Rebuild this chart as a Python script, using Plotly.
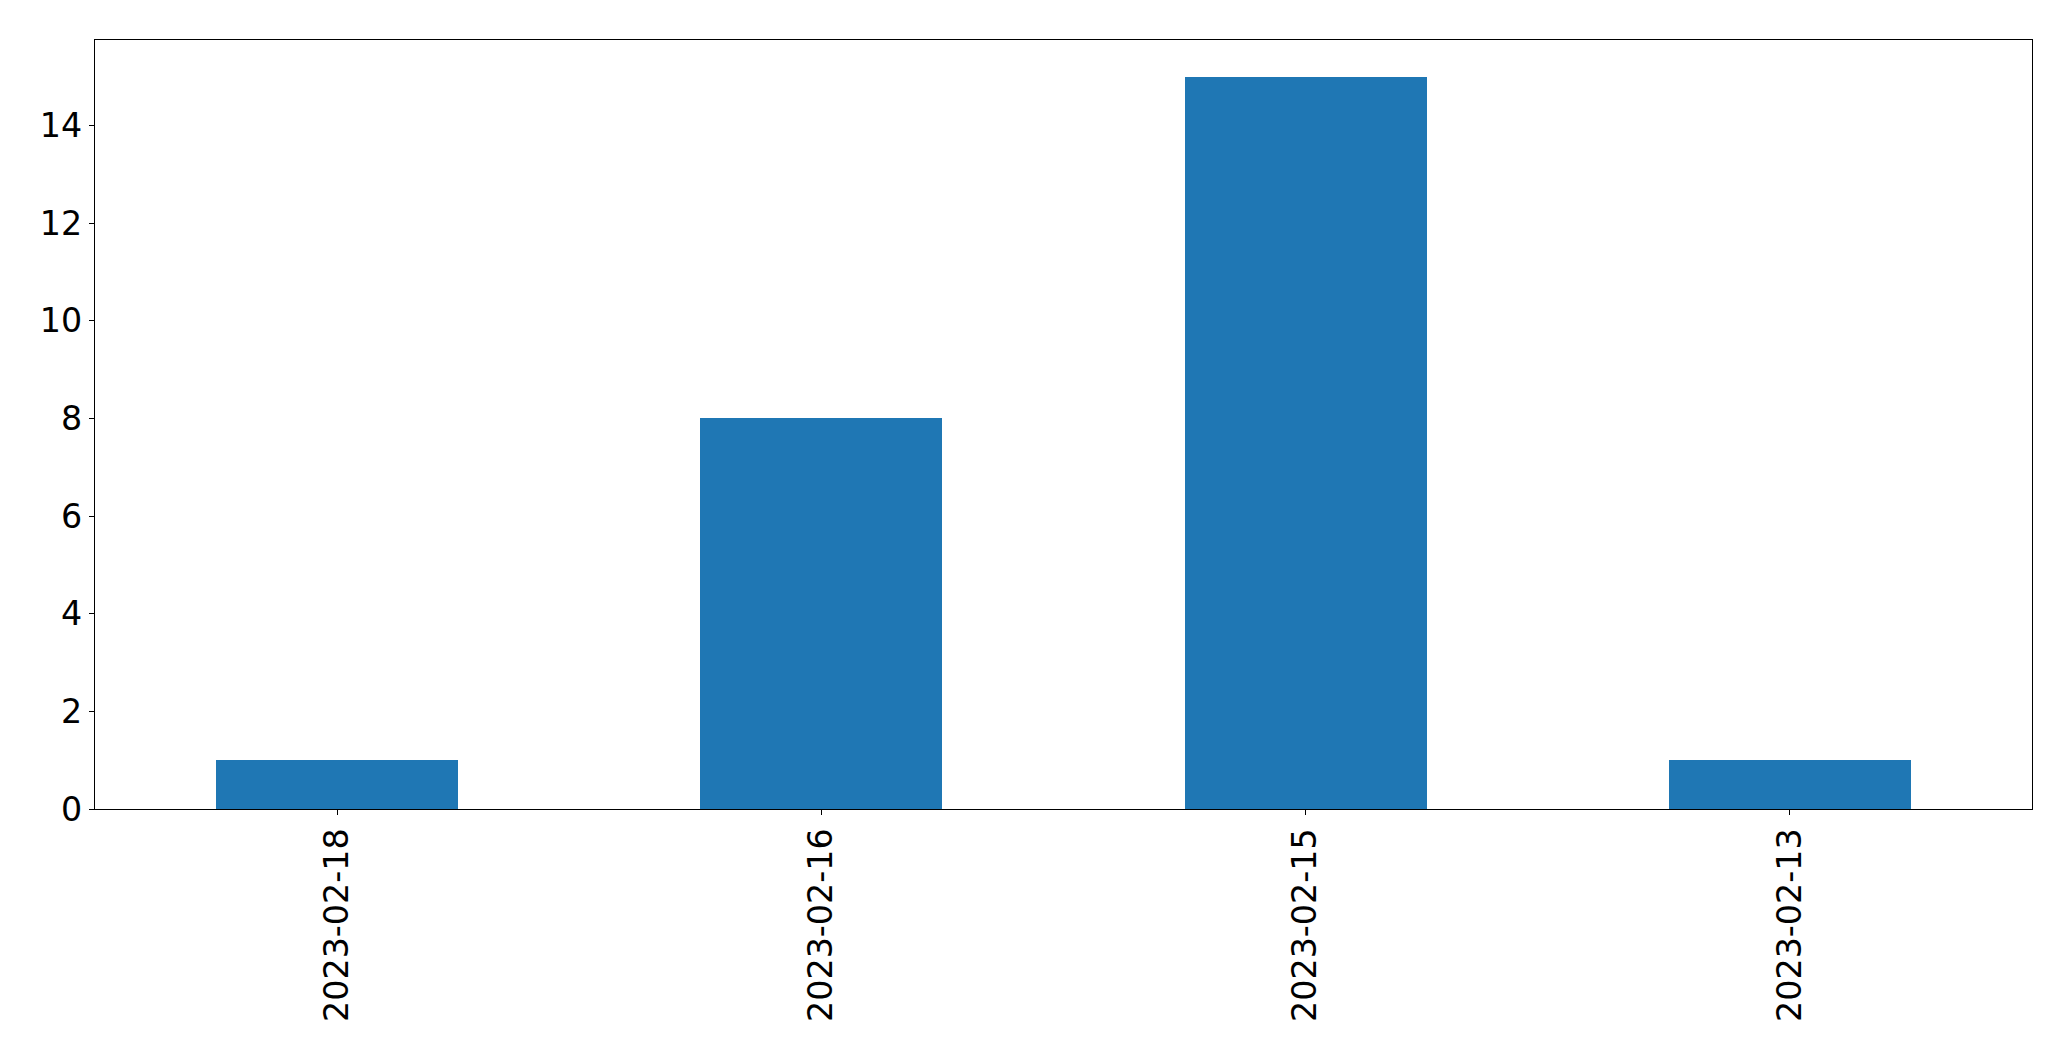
import plotly.graph_objects as go

categories = ["2023-02-18", "2023-02-16", "2023-02-15", "2023-02-13"]
values = [1, 8, 15, 1]
y_ticks = [0, 2, 4, 6, 8, 10, 12, 14]

positions = list(range(len(categories)))

fig = go.Figure()
fig.add_trace(go.Bar(
    x=positions,
    y=values,
    width=0.5,
    marker=dict(color="#1f77b4", line=dict(width=0)),
    showlegend=False,
))

fig.update_layout(
    width=2071,
    height=1061,
    margin=dict(l=87, r=47, t=32, b=260, pad=0),
    paper_bgcolor="white",
    plot_bgcolor="white",
    font=dict(family="DejaVu Sans", size=33.3, color="black"),
    bargap=0,
)
fig.update_xaxes(
    range=[-0.5, 3.5],
    tickvals=positions,
    ticktext=categories,
    tickangle=-90,
    showline=True, mirror=True, linecolor="black", linewidth=1.2,
    ticks="outside", ticklen=5, tickwidth=1.2, tickcolor="black",
    showgrid=False, zeroline=False,
)
fig.update_yaxes(
    range=[0, 15.75],
    tickvals=y_ticks,
    showline=True, mirror=True, linecolor="black", linewidth=1.2,
    ticks="outside", ticklen=5, tickwidth=1.2, tickcolor="black",
    showgrid=False, zeroline=False,
)

fig.write_html("out.html")
